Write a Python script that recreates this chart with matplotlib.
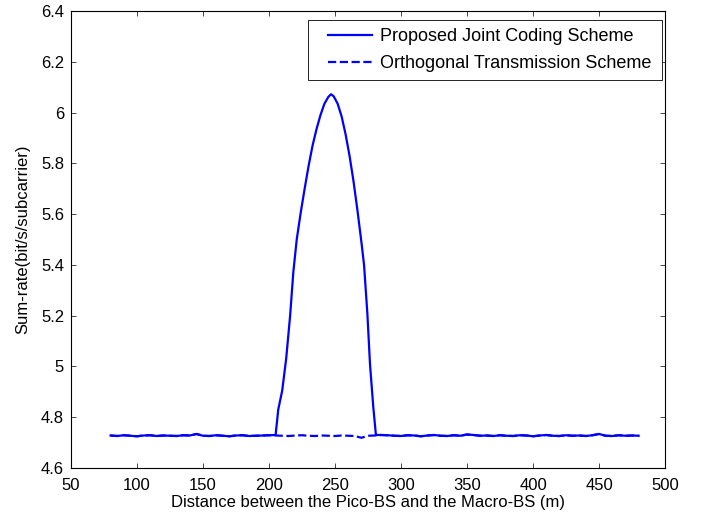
import numpy as np
import matplotlib
matplotlib.use("Agg")
import matplotlib.pyplot as plt
from matplotlib.legend_handler import HandlerLine2D

plt.rcParams['font.family'] = ['Liberation Sans', 'DejaVu Sans']

# flat part of both curves, left of the peak (x = 80..200, step 5)
base_left = [4.728, 4.726, 4.729, 4.727, 4.725, 4.728, 4.729, 4.726, 4.728, 4.727,
             4.726, 4.729, 4.728, 4.734, 4.727, 4.726, 4.729, 4.727, 4.725, 4.728,
             4.729, 4.726, 4.727, 4.728, 4.729]
# flat part right of the peak (x = 285..480, step 5)
base_right = [4.730, 4.729, 4.727, 4.726, 4.729, 4.728, 4.725, 4.728, 4.730, 4.727,
              4.726, 4.729, 4.727, 4.732, 4.730, 4.727, 4.728, 4.726, 4.729, 4.727,
              4.726, 4.729, 4.728, 4.725, 4.728, 4.730, 4.727, 4.726, 4.729, 4.727,
              4.728, 4.726, 4.729, 4.734, 4.727, 4.726, 4.729, 4.727, 4.728, 4.727]

# joint coding scheme around the peak
peak_x = [205, 207, 210, 213, 216, 218.4, 221, 224, 227, 230, 233, 236, 239, 242, 245,
          247, 249, 252, 255, 258, 261, 264, 267, 270, 272, 274.5, 276.5, 279, 281]
peak_y = [4.73, 4.83, 4.905, 5.03, 5.20, 5.37, 5.50, 5.605, 5.70, 5.79, 5.87, 5.935, 5.99,
          6.035, 6.062, 6.072, 6.064, 6.035, 5.985, 5.915, 5.83, 5.73, 5.615, 5.49, 5.40,
          5.21, 5.01, 4.84, 4.73]

# orthogonal scheme in the same range (x = 205..280, step 5)
orth_mid = [4.728, 4.727, 4.726, 4.728, 4.729, 4.727, 4.726, 4.728, 4.727, 4.726,
            4.728, 4.727, 4.726, 4.719, 4.727, 4.728]

x_left = np.arange(80, 201, 5)
x_mid = np.arange(205, 281, 5)
x_right = np.arange(285, 481, 5)

joint_x = np.concatenate([x_left, peak_x, x_right])
joint_y = np.concatenate([base_left, peak_y, base_right])
orth_x = np.concatenate([x_left, x_mid, x_right])
orth_y = np.concatenate([base_left, orth_mid, base_right])

fig = plt.figure(figsize=(7.02, 5.20), dpi=100)
ax = fig.add_axes([71/702, 52/520, 594/702, 457/520])

l1, = ax.plot(joint_x, joint_y, color='blue', lw=1.6, label='Proposed Joint Coding Scheme')
l2, = ax.plot(orth_x, orth_y, color='blue', lw=1.6, ls='--', label='Orthogonal Transmission Scheme')

ax.set_xlim(50, 500)
ax.set_ylim(4.6, 6.4)
ax.set_xticks(np.arange(50, 501, 50))
ax.set_yticks(np.arange(4.6, 6.41, 0.2))
ax.set_yticklabels(['4.6', '4.8', '5', '5.2', '5.4', '5.6', '5.8', '6', '6.2', '6.4'])
ax.tick_params(direction='in', top=True, right=True, length=3.5, width=0.5, labelsize=12)
ax.tick_params(axis='x', pad=7)
ax.tick_params(axis='y', pad=5)
for s in ax.spines.values():
    s.set_linewidth(0.8)

ax.set_xlabel('Distance between the Pico-BS and the Macro-BS (m)', fontsize=12, labelpad=2)
ax.set_ylabel('Sum-rate(bit/s/subcarrier)', fontsize=12, labelpad=8)

# legend box spans a fixed width, handle indented like the original
hm = {l1: HandlerLine2D(xpad=0.66), l2: HandlerLine2D(xpad=0.66)}
leg = ax.legend(loc='upper left', bbox_to_anchor=(0.399, 0.5, 0.596, 0.48), mode='expand',
                borderaxespad=0, fontsize=13, fancybox=False, framealpha=1,
                edgecolor='black', handlelength=3.08, handletextpad=0.45,
                labelspacing=0.55, borderpad=0.45, handler_map=hm)
leg.get_frame().set_linewidth(0.6)

fig.savefig('out.png', dpi=100)
